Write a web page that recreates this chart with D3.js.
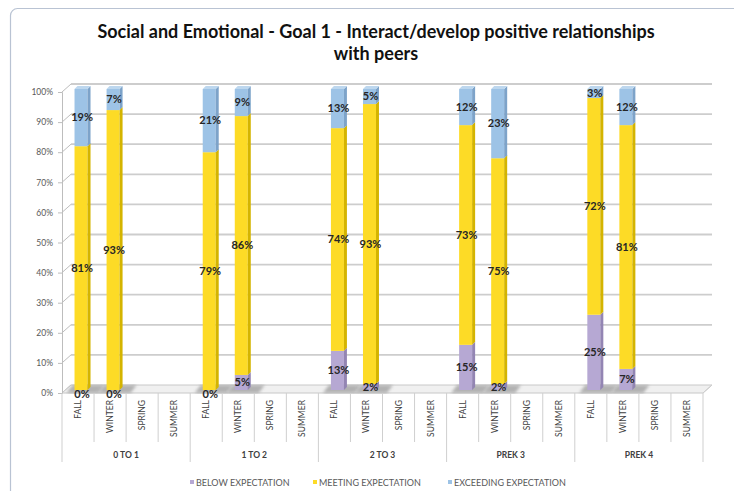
<!DOCTYPE html>
<html>
<head>
<meta charset="utf-8">
<script src="https://cdn.jsdelivr.net/npm/d3@7"></script>
<style>
  body { margin: 0; background: #fff; }
  svg text { font-family: Lato, "Liberation Sans", Arial, sans-serif; }
</style>
</head>
<body>
<div id="chart"></div>
<script>
const W = 734, H = 491;

// categories
const groups = ["0 TO 1", "1 TO 2", "2 TO 3", "PREK 3", "PREK 4"];
const seasons = ["FALL", "WINTER", "SPRING", "SUMMER"];
const seriesNames = ["BELOW EXPECTATION", "MEETING EXPECTATION", "EXCEEDING EXPECTATION"];

// values in percent, one per group/season slot (null = no data)
const belowPct     = [0, 0, null, null,  0, 5, null, null, 13, 2, null, null, 15, 2, null, null, 25, 7, null, null];
const meetingPct   = [81, 93, null, null, 79, 86, null, null, 74, 93, null, null, 73, 75, null, null, 72, 81, null, null];
const exceedingPct = [19, 7, null, null, 21, 9, null, null, 13, 5, null, null, 12, 23, null, null, 3, 12, null, null];

const yTicks = [0, 0.1, 0.2, 0.3, 0.4, 0.5, 0.6, 0.7, 0.8, 0.9, 1];

const colors = ["#b6a8d3", "#fddb26", "#9dc3e6"];
const sideColors = ["#9385b3", "#d4b400", "#7da3c9"];
const topColors = ["#cfc4e6", "#fee870", "#bdd7ee"];

const slots = [];
groups.forEach((g, gi) => seasons.forEach((s, si) => {
  const i = gi * seasons.length + si;
  slots.push({ key: g + "|" + s, group: g, season: s,
    below: belowPct[i], meeting: meetingPct[i], exceeding: exceedingPct[i] });
}));

const svg = d3.select("#chart").append("svg")
  .attr("width", W).attr("height", H);

// outer chart border
svg.append("rect")
  .attr("x", 10.5).attr("y", 8.5).attr("width", 760).attr("height", 520)
  .attr("rx", 7).attr("fill", "#fff").attr("stroke", "#b9c3d3").attr("stroke-width", 1.2);

// title
const title = svg.append("g").attr("font-size", 18).attr("font-weight", "bold").attr("fill", "#111");
title.append("text").attr("x", 376).attr("y", 38).attr("text-anchor", "middle")
  .text("Social and Emotional - Goal 1 - Interact/develop positive relationships");
title.append("text").attr("x", 376).attr("y", 60).attr("text-anchor", "middle")
  .text("with peers");

const x0 = 62, x1 = 703;
const dx = 9, dy = 8;          // depth of the 3D walls
const lift = 3;                // bars sit slightly back from the front plane

const x = d3.scaleBand().domain(slots.map(d => d.key)).range([x0, x1]);
const xg = d3.scaleBand().domain(groups).range([x0, x1]);
const y = d3.scaleLinear().domain([0, 1]).range([393, 92]);

// back wall gridlines
const grid = svg.append("g");
yTicks.forEach(t => {
  if (t > 0) {
    grid.append("line")
      .attr("x1", x0 + dx).attr("x2", x1 + dx)
      .attr("y1", y(t) - dy).attr("y2", y(t) - dy)
      .attr("stroke", "#cdcdcd").attr("stroke-width", 1.8);
  }
  grid.append("line")
    .attr("x1", x0).attr("x2", x0 + dx)
    .attr("y1", y(t)).attr("y2", y(t) - dy)
    .attr("stroke", "#bdbdbd").attr("stroke-width", 1);
});

// floor
svg.append("polygon")
  .attr("points", [[x0, y(0)], [x1, y(0)], [x1 + dx, y(0) - dy], [x0 + dx, y(0) - dy]].join(" "))
  .attr("fill", "#f0f0f0").attr("stroke", "#c8c8c8").attr("stroke-width", 1);

// y axis
const yAxis = svg.append("g")
  .attr("transform", `translate(${x0},0)`)
  .call(d3.axisLeft(y).tickValues(yTicks).tickFormat(d3.format(".0%")).tickSize(4).tickPadding(5));
yAxis.select(".domain").attr("stroke", "#bdbdbd");
yAxis.selectAll(".tick line").attr("stroke", "#bdbdbd");
yAxis.selectAll("text").attr("font-size", 8.5).attr("fill", "#595959");

// shadows under bars
const defs = svg.append("defs");
defs.append("filter").attr("id", "blur").append("feGaussianBlur").attr("stdDeviation", 1.5);

const filled = slots.filter(d => d.meeting != null);
const bw = 13, side = 3;
const bLeft = d => x(d.key) + x.bandwidth() / 2 - 3.5;

svg.append("g").selectAll("polygon").data(filled).join("polygon")
  .attr("points", d => {
    const l = bLeft(d) - 8, r = bLeft(d) + bw + side + 8;
    return [[l, y(0)], [r, y(0)], [r + 6, y(0) - dy], [l + 6, y(0) - dy]].join(" ");
  })
  .attr("fill", "#9e9e9e").attr("opacity", 0.75).attr("filter", "url(#blur)");

// stacked bars
const stack = d3.stack().keys(["below", "meeting", "exceeding"])
  .value((d, k) => (d[k] || 0) / 100);
const stacked = stack(filled);

const barG = svg.append("g");
stacked.forEach((layer, li) => {
  const g = barG.append("g");
  layer.forEach(seg => {
    const d = seg.data;
    const l = bLeft(d), r = l + bw;
    const yb = y(seg[0]) - lift, yt = y(seg[1]) - lift;
    if (seg[1] - seg[0] <= 0) return;
    g.append("rect").attr("x", l).attr("y", yt).attr("width", bw).attr("height", yb - yt)
      .attr("fill", colors[li]);
    g.append("polygon")
      .attr("points", [[r, yt], [r + side, yt - 3], [r + side, yb - 3], [r, yb]].join(" "))
      .attr("fill", sideColors[li]);
    if (li === 2 || seg[1] >= 0.999) {
      g.append("polygon")
        .attr("points", [[l, yt], [r, yt], [r + side, yt - 3], [l + side, yt - 3]].join(" "))
        .attr("fill", topColors[li]);
    }
  });
});

// data labels
const labG = svg.append("g");
stacked.forEach((layer, li) => {
  layer.forEach(seg => {
    const d = seg.data;
    const v = d[layer.key];
    if (v == null) return;
    labG.append("text")
      .attr("x", bLeft(d) + bw / 2 + 1)
      .attr("y", y((seg[0] + seg[1]) / 2) - lift + (v === 0 ? 4 : 0))
      .attr("dy", "0.35em")
      .attr("text-anchor", "middle")
      .attr("font-size", 11).attr("font-weight", "bold")
      .attr("fill", "#262626")
      .text(v + "%");
  });
});

// category axis: slot separators and labels
const catG = svg.append("g");
slots.forEach((d, i) => {
  const xl = x(d.key);
  const isGroupStart = i % seasons.length === 0;
  catG.append("line")
    .attr("x1", xl).attr("x2", xl)
    .attr("y1", y(0)).attr("y2", isGroupStart ? 462 : 442)
    .attr("stroke", "#cfcfcf").attr("stroke-width", 1);
  catG.append("text")
    .attr("transform", `translate(${xl + x.bandwidth() / 2},400) rotate(-90)`)
    .attr("text-anchor", "end").attr("dy", "0.35em")
    .attr("font-size", 8.5).attr("fill", "#404040")
    .text(d.season);
});
catG.append("line")
  .attr("x1", x1).attr("x2", x1).attr("y1", y(0)).attr("y2", 462)
  .attr("stroke", "#cfcfcf").attr("stroke-width", 1);
catG.append("line")
  .attr("x1", x1).attr("x2", x1 + dx).attr("y1", y(0)).attr("y2", y(0) - dy)
  .attr("stroke", "#cfcfcf").attr("stroke-width", 1);

groups.forEach(g => {
  catG.append("text")
    .attr("x", xg(g) + xg.bandwidth() / 2).attr("y", 458)
    .attr("text-anchor", "middle").attr("font-size", 8.5).attr("font-weight", "bold")
    .attr("fill", "#404040").text(g);
});

// legend
const legendX = [190, 313, 448];
const leg = svg.append("g");
seriesNames.forEach((name, i) => {
  leg.append("rect").attr("x", legendX[i]).attr("y", 480).attr("width", 4).attr("height", 4)
    .attr("fill", colors[i]);
  leg.append("text").attr("x", legendX[i] + 6).attr("y", 486)
    .attr("font-size", 9).attr("fill", "#595959").text(name);
});
</script>
</body>
</html>
